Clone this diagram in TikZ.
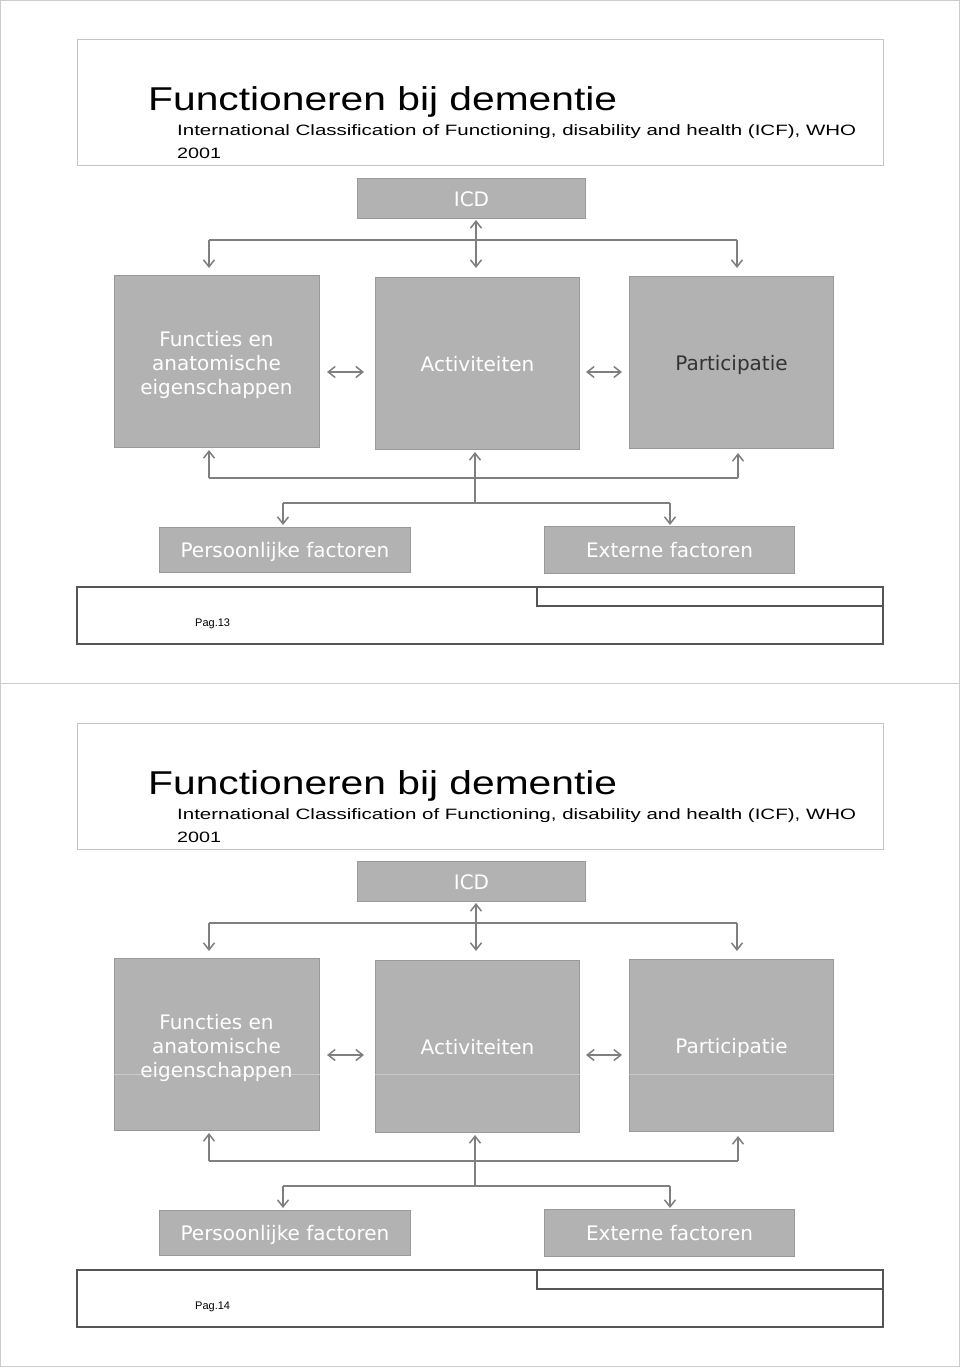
\documentclass[tikz,border=0pt]{standalone}
\usepackage{fontspec}
\usepackage{graphicx}
\setmainfont{Liberation Sans}
\newfontfamily\boxfont{DejaVu Sans}
\usetikzlibrary{arrows.meta}
\definecolor{boxgray}{HTML}{B2B2B2}
\definecolor{boxedge}{HTML}{999999}
\definecolor{arrgray}{HTML}{7F7F7F}
\definecolor{framegray}{HTML}{CCCCCC}
\definecolor{titlegray}{HTML}{C4C4C4}
\definecolor{footgray}{HTML}{555555}
\definecolor{darktext}{HTML}{333333}
\tikzset{
  box/.style={draw=boxedge, fill=boxgray, line width=1pt, inner sep=0pt, anchor=north west},
  btext/.style={text=white, font=\boxfont\fontsize{20}{24}\selectfont, text height=15pt, text depth=0pt},
  mtext/.style={text=white, font=\boxfont\fontsize{20}{24}\selectfont, inner sep=0pt, align=center},
  conn/.style={draw=arrgray, line width=1.6pt},
  tip/.style={-{Straight Barb[length=7pt,width=11pt,line width=1.5pt]}},
  dtip/.style={{Straight Barb[length=7pt,width=11pt,line width=1.5pt]}-{Straight Barb[length=7pt,width=11pt,line width=1.5pt]}},
  titleframe/.style={draw=titlegray, line width=1pt},
  footframe/.style={draw=footgray, line width=1.3pt},
  faint/.style={draw=white!30!boxgray, line width=1pt},
}
\newcommand\slidehook{}
\newcommand\faintlines{%
  \coordinate (bline) at (0,391);
  \foreach \n in {fun,act,par}
    \draw[faint] (b\n.west |- bline) -- (b\n.east |- bline);}
\newcommand\icfslide[4]{%
\begin{scope}[yshift=-#2pt]
  % title area
  \draw[titleframe] (77,40) rectangle (883,166);
  \node[anchor=base west, inner sep=0pt] (#1title) at (148,111)
    {\resizebox{469pt}{\height}{\fontsize{33}{38}\selectfont Functioneren bij dementie}};
  \node[anchor=base west, inner sep=0pt] (#1sub) at (177,136)
    {\resizebox{679pt}{\height}{\fontsize{15}{18}\selectfont International Classification of Functioning, disability and health (ICF), WHO}};
  \node[anchor=base west, inner sep=0pt] (#1year) at (177,159)
    {\resizebox{44pt}{\height}{\fontsize{15}{18}\selectfont 2001}};
  % boxes
  \node[box, btext, minimum width=228pt, minimum height=40pt] (#1icd) at (357,178) {ICD};
  \node[box, minimum width=205pt, minimum height=172pt] (#1fun) at (114,275) {};
  \node[box, btext, minimum width=204pt, minimum height=172pt] (#1act) at (375,277) {Activiteiten};
  \node[box, btext, text=#4, minimum width=204pt, minimum height=172pt] (#1par) at (629,276) {Participatie};
  \slidehook
  \node[mtext] (#1funtext) at (216.5,364.8) {Functies en\\anatomische\\eigenschappen};
  \node[box, btext, minimum width=251pt, minimum height=45pt] (#1per) at (159,527) {Persoonlijke factoren};
  \node[box, btext, minimum width=250pt, minimum height=47pt] (#1ext) at (544,526) {Externe factoren};
  % top connectors
  \coordinate (#1tl) at (209,240);
  \coordinate (#1tr) at (737,240);
  \coordinate (#1tm) at (476,240);
  \draw[conn] (#1tl) -- (#1tr);
  \draw[conn,tip] (#1tl) -- ([yshift=7pt]#1fun.north -| #1tl);
  \draw[conn,tip] (#1tr) -- ([yshift=8pt]#1par.north -| #1tr);
  \draw[conn,dtip] ([yshift=-1pt]#1icd.south -| #1tm) -- ([yshift=9pt]#1act.north -| #1tm);
  % horizontal double arrows
  \coordinate (#1my) at (0,372);
  \draw[conn,dtip] ([xshift=7pt]#1fun.east |- #1my) -- ([xshift=-11pt]#1act.west |- #1my);
  \draw[conn,dtip] ([xshift=6pt]#1act.east |- #1my) -- ([xshift=-7pt]#1par.west |- #1my);
  % bottom connectors
  \coordinate (#1bl) at (209,478);
  \coordinate (#1br) at (738,478);
  \coordinate (#1bm) at (475,478);
  \coordinate (#1fm) at (475,503);
  \coordinate (#1fl) at (283,503);
  \coordinate (#1fr) at (670,503);
  \draw[conn] (#1bl) -- (#1br);
  \draw[conn,tip] (#1bl) -- ([yshift=-2pt]#1fun.south -| #1bl);
  \draw[conn,tip] (#1fm) -- ([yshift=-2pt]#1act.south -| #1bm);
  \draw[conn,tip] (#1br) -- ([yshift=-4pt]#1par.south -| #1br);
  \draw[conn] (#1fl) -- (#1fr);
  \draw[conn,tip] (#1fl) -- ([yshift=2pt]#1per.north -| #1fl);
  \draw[conn,tip] (#1fr) -- ([yshift=1pt]#1ext.north -| #1fr);
  % footer
  \draw[footframe] (77,587) rectangle (883,644);
  \draw[footframe] (537,587) rectangle (883,606);
  \node[anchor=base west, inner sep=0pt, font=\fontsize{11}{13}\selectfont] (#1page) at (195,626) {Pag.#3};
\end{scope}}
\begin{document}
\begin{tikzpicture}[x=1pt,y=-1pt]
  \useasboundingbox (0,0) rectangle (960,1367);
  \draw[draw=framegray, line width=1pt] (0.5,0.5) rectangle (959.5,1366.5);
  \draw[draw=framegray, line width=1pt] (0,683) -- (960,683);
  \icfslide{a}{0}{13}{darktext}
  \renewcommand\slidehook{\faintlines}
  \icfslide{b}{683}{14}{white}
\end{tikzpicture}
\end{document}
